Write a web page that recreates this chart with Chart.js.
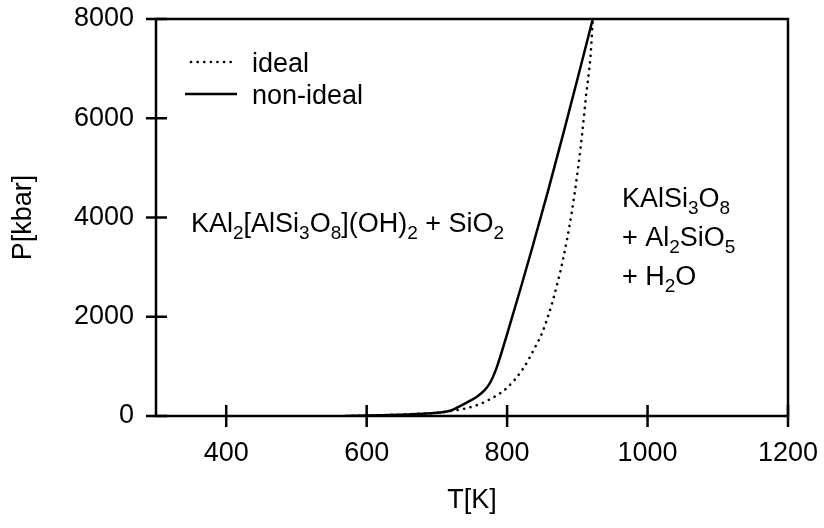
<!DOCTYPE html>
<html>
<head>
<meta charset="utf-8">
<script src="https://cdn.jsdelivr.net/npm/chart.js@4.4.1/dist/chart.umd.min.js"></script>
<style>
  html, body { margin: 0; padding: 0; background: #fff; }
</style>
</head>
<body>
<canvas id="grafico" width="824" height="528"></canvas>
<script>
/* ================= DADOS ================= */

const tempIdeal = [570, 620, 660, 700, 720, 740, 760, 780, 800, 823, 840, 850, 865, 880, 892, 905, 912, 919, 922];
const pressIdeal = [0, 15, 35, 65, 100, 150, 235, 370, 570, 960, 1390, 1680, 2320, 3180, 4100, 5450, 6400, 7300, 8000];

const tempReal = [570, 620, 680, 710, 720, 733, 745, 758, 768, 776, 785, 800, 820, 835, 858, 880, 900, 922];
const pressReal = [0, 15, 45, 80, 110, 200, 290, 400, 520, 675, 970, 1650, 2610, 3350, 4520, 5690, 6780, 8000];

const ticksT = [400, 600, 800, 1000, 1200];
const ticksP = [0, 2000, 4000, 6000, 8000];

const nomesSeries = ["ideal", "non-ideal"];

const rotuloEsquerda = ["KAl_2[AlSi_3O_8](OH)_2 + SiO_2"];
const rotuloDireita = ["KAlSi_3O_8", "+ Al_2SiO_5", "+ H_2O"];

/* ================= UTIL ================= */

const FONTE = "'Liberation Sans', Arial, sans-serif";

function pontos(ts, ps) {
  return ts.map((t, i) => ({ x: t, y: ps[i] }));
}

// "_" antes de um caractere = subscrito
function desenharFormula(ctx, texto, x, y) {
  let cx = x;
  for (let i = 0; i < texto.length; i++) {
    let c = texto[i];
    let sub = false;
    if (c === "_") { sub = true; c = texto[++i]; }
    ctx.font = sub ? `19px ${FONTE}` : `27px ${FONTE}`;
    ctx.fillText(c, cx, sub ? y + 7 : y);
    cx += ctx.measureText(c).width;
  }
}

/* ================= PLUGINS ================= */

const moldura = {
  id: "moldura",
  afterDraw(chart) {
    const { ctx, chartArea: a, scales } = chart;
    ctx.save();
    ctx.strokeStyle = "#000";
    ctx.lineWidth = 2.5;
    ctx.strokeRect(a.left, a.top, a.right - a.left, a.bottom - a.top);

    ctx.beginPath();
    scales.x.ticks.forEach(t => {
      const px = scales.x.getPixelForValue(t.value);
      ctx.moveTo(px, a.bottom - 11);
      ctx.lineTo(px, a.bottom + 11);
    });
    scales.y.ticks.forEach(t => {
      const py = scales.y.getPixelForValue(t.value);
      ctx.moveTo(a.left - 10, py);
      ctx.lineTo(a.left + 11, py);
    });
    ctx.stroke();

    // legenda
    ctx.fillStyle = "#000";
    ctx.textBaseline = "alphabetic";
    chart.data.datasets.forEach((ds, i) => {
      const yy = 62 + i * 32;
      ctx.beginPath();
      ctx.lineWidth = ds.borderWidth;
      ctx.lineCap = ds.borderCapStyle || "butt";
      ctx.setLineDash(ds.borderDash || []);
      ctx.moveTo(i === 0 ? 191 : 185, yy);
      ctx.lineTo(i === 0 ? 233 : 237, yy);
      ctx.stroke();
      ctx.setLineDash([]);
      ctx.font = `27px ${FONTE}`;
      ctx.fillText(ds.label, 252, yy + 10);
    });

    // rótulos das fases
    desenharFormula(ctx, rotuloEsquerda[0], 191, 232);
    rotuloDireita.forEach((linha, i) => {
      desenharFormula(ctx, linha, 622, 207 + i * 39);
    });

    ctx.restore();
  }
};

/* ================= GRÁFICO ================= */

new Chart(document.getElementById("grafico"), {
  type: "scatter",
  data: {
    datasets: [
      {
        label: nomesSeries[0],
        data: pontos(tempIdeal, pressIdeal),
        showLine: true,
        borderColor: "#000",
        borderWidth: 2.6,
        borderDash: [0.1, 6.5],
        borderCapStyle: "round",
        pointRadius: 0,
        cubicInterpolationMode: "monotone",
        fill: false
      },
      {
        label: nomesSeries[1],
        data: pontos(tempReal, pressReal),
        showLine: true,
        borderColor: "#000",
        borderWidth: 2.5,
        pointRadius: 0,
        cubicInterpolationMode: "monotone",
        fill: false
      }
    ]
  },
  plugins: [moldura],
  options: {
    responsive: false,
    animation: false,
    layout: { padding: { top: 19, right: 36, left: 0, bottom: 0 } },
    plugins: {
      legend: { display: false },
      tooltip: { enabled: false }
    },
    scales: {
      x: {
        type: "linear",
        min: 300,
        max: 1200,
        afterBuildTicks: s => { s.ticks = ticksT.map(v => ({ value: v })); },
        afterFit: s => {
          s.height = 112;
          s.paddingLeft = 0;
          s.paddingRight = 0;
        },
        grid: { display: false },
        border: { display: false },
        ticks: {
          color: "#000",
          font: { family: FONTE, size: 27 },
          padding: 13,
          maxRotation: 0,
          callback: v => String(v)
        },
        title: {
          display: true,
          text: "T[K]",
          color: "#000",
          font: { family: FONTE, size: 27 },
          padding: { bottom: 11 }
        }
      },
      y: {
        type: "linear",
        min: 0,
        max: 8000,
        afterBuildTicks: s => { s.ticks = ticksP.map(v => ({ value: v })); },
        afterFit: s => {
          s.width = 156;
          s.paddingTop = 0;
          s.paddingBottom = 0;
        },
        grid: { display: false },
        border: { display: false },
        ticks: {
          color: "#000",
          font: { family: FONTE, size: 27 },
          padding: 14,
          callback: v => String(v)
        },
        title: {
          display: true,
          text: "P[kbar]",
          color: "#000",
          font: { family: FONTE, size: 27 },
          padding: { top: 7 }
        }
      }
    }
  }
});
</script>
</body>
</html>
